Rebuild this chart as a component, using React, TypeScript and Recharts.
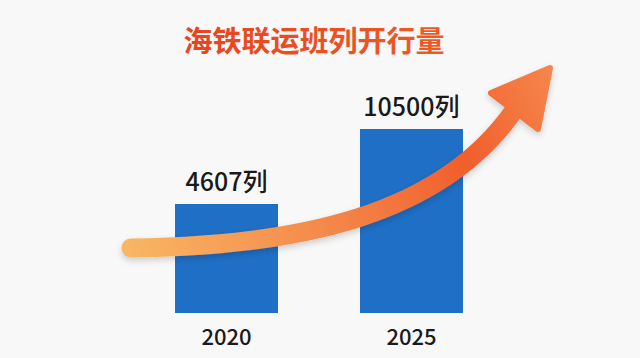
import React from 'react';
import { BarChart, Bar, XAxis, YAxis, LabelList } from 'recharts';

const years = ['2020', '2025'];
const trains = [4607, 10500];
const unit = '列';
const title = '海铁联运班列开行量';

const data = years.map((year, i) => ({ year, trains: trains[i] }));

const FONT = "'Noto Sans CJK SC', 'Noto Sans', sans-serif";

const YearTick = (props: any) => {
  const { x, y, payload } = props;
  return (
    <text x={x} y={y + 30} textAnchor="middle" fontSize={22} fontWeight={500} fill="#1a1a1a" fontFamily={FONT}>
      {payload.value}
    </text>
  );
};

// title and the decorative trend arrow, drawn over the chart
const Overlay = () => (
  <svg width={640} height={358} style={{ position: 'absolute', left: 0, top: 0, pointerEvents: 'none' }}>
    <defs>
      <linearGradient id="titleGrad" x1="0" y1="0" x2="1" y2="0">
        <stop offset="0%" stopColor="#e8441e" />
        <stop offset="100%" stopColor="#ee5a26" />
      </linearGradient>
      <linearGradient id="arrowGrad" gradientUnits="userSpaceOnUse" x1="130" y1="250" x2="552" y2="70">
        <stop offset="0%" stopColor="#f8b563" />
        <stop offset="40%" stopColor="#f48a4b" />
        <stop offset="75%" stopColor="#f15e2c" />
        <stop offset="100%" stopColor="#f5864c" />
      </linearGradient>
      <filter id="arrowShadow" x="-10%" y="-10%" width="120%" height="130%">
        <feDropShadow dx="0" dy="3" stdDeviation="3" floodColor="#000" floodOpacity="0.18" />
      </filter>
    </defs>
    <text x={314} y={52} textAnchor="middle" fontSize={29} fontWeight={700} fill="url(#titleGrad)" fontFamily={FONT}>
      {title}
    </text>
    <g filter="url(#arrowShadow)">
      <path
        d="M131,248 C300,246 440,215 513,112"
        fill="none"
        stroke="url(#arrowGrad)"
        strokeWidth={19}
        strokeLinecap="round"
      />
      <polygon
        points="550,68 491,93 538,129"
        fill="url(#arrowGrad)"
        stroke="url(#arrowGrad)"
        strokeWidth={6}
        strokeLinejoin="round"
      />
    </g>
  </svg>
);

export default function App() {
  return (
    <div style={{ position: 'fixed', left: 0, top: 0, width: 640, height: 358, background: '#f8f8f8' }}>
      <BarChart width={640} height={358} data={data} margin={{ top: 60, right: 136, bottom: 0, left: 134 }}>
        <XAxis dataKey="year" height={45} axisLine={false} tickLine={false} tickSize={0} tick={<YearTick />} />
        <YAxis hide type="number" scale="log" domain={[1391, 22400]} allowDataOverflow />
        <Bar dataKey="trains" fill="#1f6fc6" barSize={103} isAnimationActive={false}>
          <LabelList
            dataKey="trains"
            position="top"
            offset={13}
            formatter={(v: any) => `${v}${unit}`}
            style={{ fontSize: 25, fontWeight: 500, fill: '#1a1a1a', fontFamily: FONT }}
          />
        </Bar>
      </BarChart>
      <Overlay />
    </div>
  );
}
